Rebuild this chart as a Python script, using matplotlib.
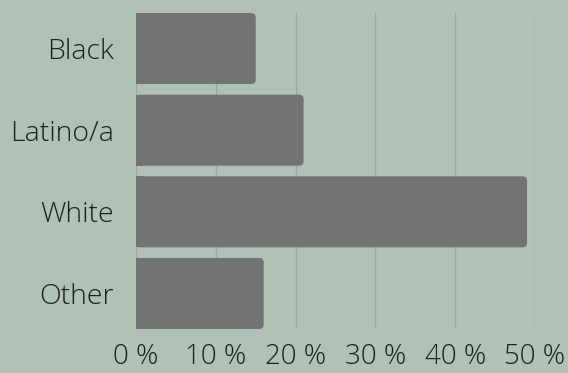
import matplotlib
matplotlib.use("Agg")
import matplotlib.pyplot as plt
from matplotlib.patches import FancyBboxPatch, Rectangle

categories = ["Black", "Latino/a", "White", "Other"]
values = [15.0, 21.0, 49.0, 16.0]
xticks = [0, 10, 20, 30, 40, 50]
xticklabels = ["0 %", "10 %", "20 %", "30 %", "40 %", "50 %"]

BG = "#afc2b5"
BAR = "#737373"
GRID = "#98aa9d"
TXT = "#1e1e1e"

plt.rcParams['font.family'] = ['Open Sans', 'DejaVu Sans']

W, H = 568, 373
fig = plt.figure(figsize=(W / 100, H / 100), dpi=100)
fig.patch.set_facecolor(BG)
ax = fig.add_axes([136 / W, (H - 329) / H, (535 - 136) / W, (329 - 13) / H])
ax.set_facecolor(BG)

bh = 0.87
n = len(categories)
ax.set_xlim(0, 50)
ax.set_ylim(n - 1 + bh / 2, -bh / 2)

ax_w_px = (535 - 136)
ax_h_px = (329 - 13)
px_per_x = ax_w_px / 50.0
px_per_y = ax_h_px / (n - 1 + bh)
aspect = px_per_x / px_per_y
r = 4.5 / px_per_x

for i, v in enumerate(values):
    y0 = i - bh / 2
    p = FancyBboxPatch((0, y0), v, bh, boxstyle=f"round,pad=0,rounding_size={r}",
                       mutation_aspect=aspect, facecolor=BAR, edgecolor="none", zorder=3)
    ax.add_patch(p)
    ax.add_patch(Rectangle((0, y0), r * 1.5, bh, facecolor=BAR, edgecolor="none", zorder=3))

ax.set_xticks(xticks)
ax.set_xticklabels(xticklabels, fontsize=20, color=TXT, fontweight='light')
ax.set_yticks(range(n))
ax.set_yticklabels(categories, fontsize=20.5, color=TXT, fontweight='light')
ax.tick_params(axis='both', length=0)
ax.tick_params(axis='y', pad=16)
ax.tick_params(axis='x', pad=10)
for s in ax.spines.values():
    s.set_visible(False)
ax.grid(axis='x', color=GRID, linewidth=1, zorder=0)
ax.grid(axis='y', visible=False)
ax.set_axisbelow(True)

fig.savefig("out.png", dpi=100, facecolor=BG)
